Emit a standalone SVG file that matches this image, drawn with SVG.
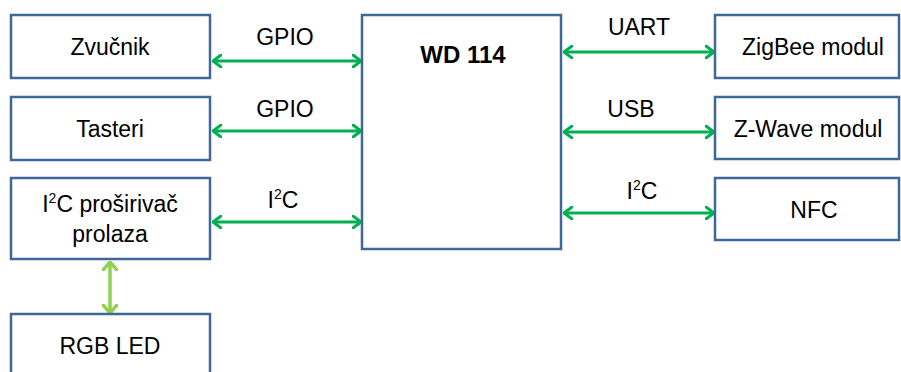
<svg xmlns="http://www.w3.org/2000/svg" width="901" height="372" viewBox="0 0 901 372">
<style>
.box{fill:#fff;stroke:#41679A;stroke-width:2.5}
.t{font-family:"Liberation Sans",Arial,sans-serif;font-size:23px;fill:#000;text-anchor:middle}
.b{font-weight:bold;font-size:24px}
.c{fill:none;stroke:#00B050;stroke-width:3}
.c2{fill:none;stroke:#92D050;stroke-width:3.5}
</style>
<defs>
<marker id="ah" viewBox="0 0 10 14" refX="9" refY="7" markerWidth="10" markerHeight="14" markerUnits="userSpaceOnUse" orient="auto-start-reverse">
<path d="M1,1 L9,7 L1,13" fill="none" stroke="#00B050" stroke-width="3" stroke-linecap="round" stroke-linejoin="round"/>
</marker>
<marker id="ah2" viewBox="0 0 10 16" refX="9" refY="8" markerWidth="10" markerHeight="16" markerUnits="userSpaceOnUse" orient="auto-start-reverse">
<path d="M1,1 L9,8 L1,15" fill="none" stroke="#92D050" stroke-width="3.5" stroke-linecap="round" stroke-linejoin="round"/>
</marker>
</defs>
<g id="connectors">
<line class="c" x1="213" y1="61" x2="361" y2="61" marker-start="url(#ah)" marker-end="url(#ah)"/>
<line class="c" x1="213" y1="131" x2="361" y2="131" marker-start="url(#ah)" marker-end="url(#ah)"/>
<line class="c" x1="213" y1="222" x2="361" y2="222" marker-start="url(#ah)" marker-end="url(#ah)"/>
<line class="c" x1="564" y1="52" x2="714" y2="52" marker-start="url(#ah)" marker-end="url(#ah)"/>
<line class="c" x1="564" y1="132" x2="714" y2="132" marker-start="url(#ah)" marker-end="url(#ah)"/>
<line class="c" x1="564" y1="213" x2="714" y2="213" marker-start="url(#ah)" marker-end="url(#ah)"/>
<line class="c2" x1="110" y1="262" x2="110" y2="313" marker-start="url(#ah2)" marker-end="url(#ah2)"/>
<text class="t" x="285" y="45">GPIO</text>
<text class="t" x="285" y="117">GPIO</text>
<text class="t" x="283" y="208">I<tspan font-size="14" dy="-9">2</tspan><tspan dy="9">C</tspan></text>
<text class="t" x="639" y="35">UART</text>
<text class="t" x="631" y="117">USB</text>
<text class="t" x="642" y="199">I<tspan font-size="14" dy="-9">2</tspan><tspan dy="9">C</tspan></text>
</g>
<g id="zvucnik"><rect class="box" x="11" y="15" width="199" height="63"/><text class="t" x="110" y="55">Zvučnik</text></g>
<g id="tasteri"><rect class="box" x="11" y="97" width="199" height="63"/><text class="t" x="110" y="137">Tasteri</text></g>
<g id="i2c-prosirivac"><rect class="box" x="11" y="178" width="199" height="81"/><text class="t" x="110" y="212">I<tspan font-size="14" dy="-9">2</tspan><tspan dy="9">C proširivač</tspan></text><text class="t" x="110" y="242">prolaza</text></g>
<g id="rgb-led"><rect class="box" x="11" y="314" width="199" height="70"/><text class="t" x="110" y="354">RGB LED</text></g>
<g id="wd114"><rect class="box" x="362" y="15" width="199" height="234"/><text class="t b" x="463" y="63">WD 114</text></g>
<g id="zigbee"><rect class="box" x="715" y="15" width="184" height="63"/><text class="t" x="813" y="55">ZigBee modul</text></g>
<g id="zwave"><rect class="box" x="715" y="97" width="184" height="62"/><text class="t" x="808" y="137">Z-Wave modul</text></g>
<g id="nfc"><rect class="box" x="715" y="178" width="184" height="62"/><text class="t" x="814" y="218">NFC</text></g>
</svg>
